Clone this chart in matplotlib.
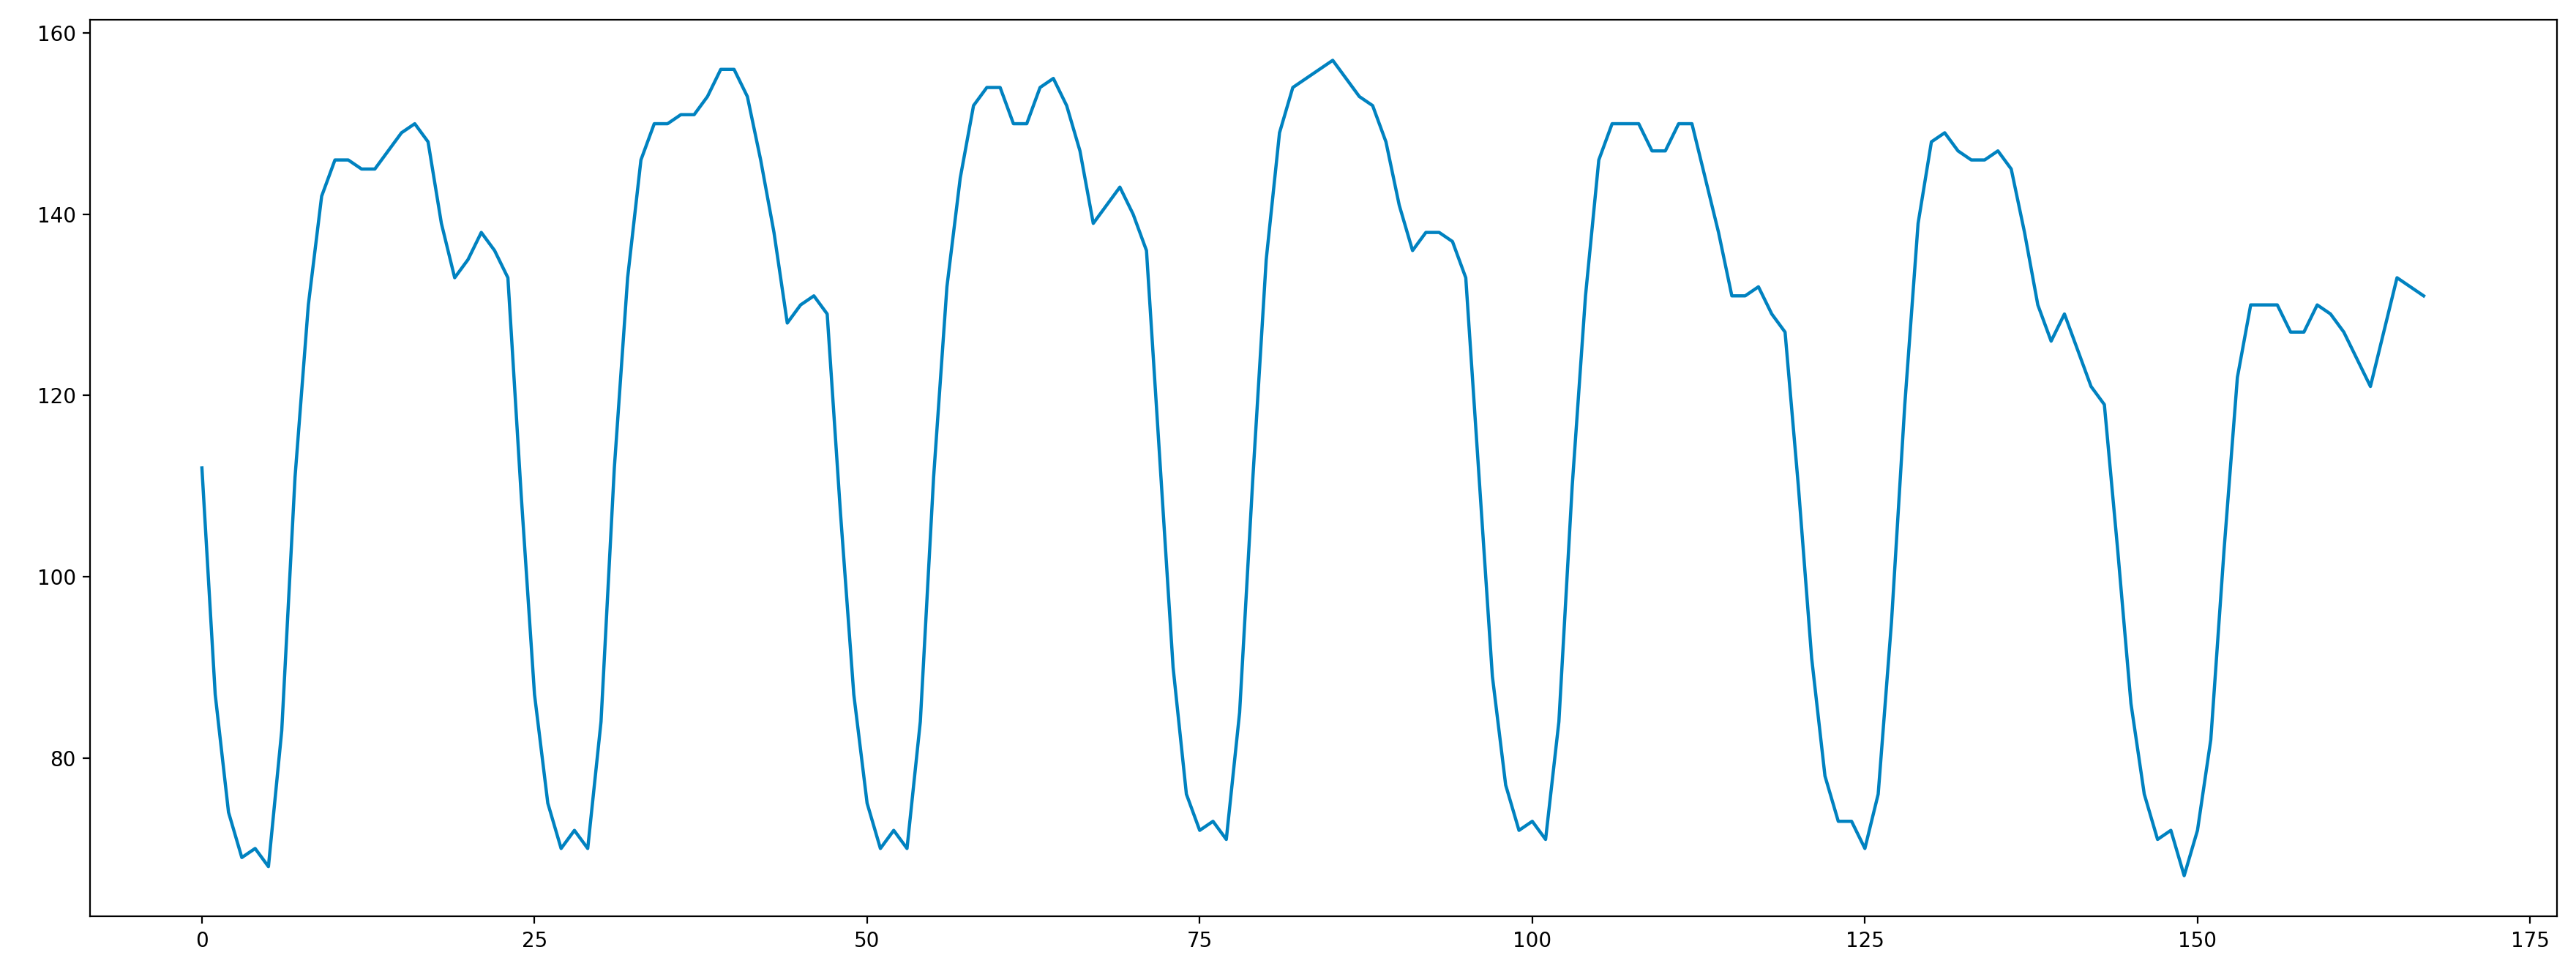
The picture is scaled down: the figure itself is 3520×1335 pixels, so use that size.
import matplotlib
matplotlib.use("Agg")
import matplotlib.pyplot as plt
import numpy as np

values = [112, 87, 74, 69, 70, 68, 83, 111, 130, 142, 146, 146, 145, 145, 147, 149, 150, 148, 139, 133,
          135, 138, 136, 133, 109, 87, 75, 70, 72, 70, 84, 112, 133, 146, 150, 150, 151, 151, 153, 156,
          156, 153, 146, 138, 128, 130, 131, 129, 107, 87, 75, 70, 72, 70, 84, 111, 132, 144, 152, 154,
          154, 150, 150, 154, 155, 152, 147, 139, 141, 143, 140, 136, 113, 90, 76, 72, 73, 71, 85, 111,
          135, 149, 154, 155, 156, 157, 155, 153, 152, 148, 141, 136, 138, 138, 137, 133, 111, 89, 77, 72,
          73, 71, 84, 110, 131, 146, 150, 150, 150, 147, 147, 150, 150, 144, 138, 131, 131, 132, 129, 127,
          110, 91, 78, 73, 73, 70, 76, 95, 119, 139, 148, 149, 147, 146, 146, 147, 145, 138, 130, 126,
          129, 125, 121, 119, 103, 86, 76, 71, 72, 67, 72, 82, 103, 122, 130, 130, 130, 127, 127, 130,
          129, 127, 124, 121, 127, 133, 132, 131]
x = np.arange(len(values))

fig = plt.figure(figsize=(17.6, 6.675), dpi=200)
ax = fig.add_axes([0.035, 0.062, 0.9575, 0.918])
ax.plot(x, values, color="#0082c0", linewidth=1.6)
ax.set_xlim(-8.4, 177.0)
ax.set_yticks([80, 100, 120, 140, 160])
ax.tick_params(labelsize=10)
fig.savefig("out.png", dpi=200)
